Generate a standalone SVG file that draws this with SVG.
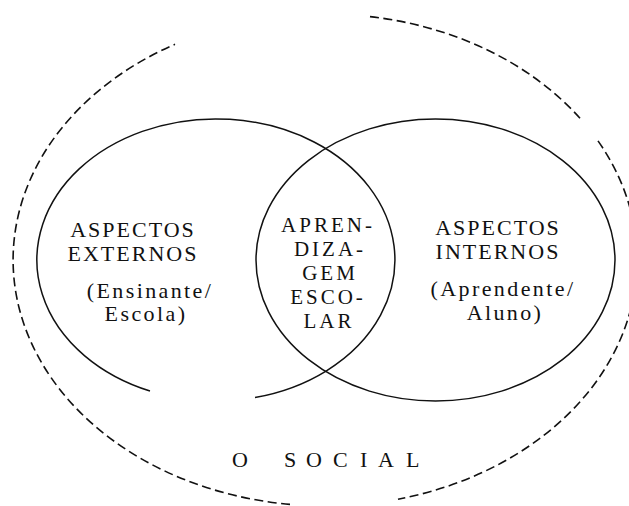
<svg xmlns="http://www.w3.org/2000/svg" width="629" height="506" viewBox="0 0 629 506">
<style>
.outer{fill:none;stroke:#111;stroke-width:1.6;stroke-dasharray:9 4.5}
.ring{fill:none;stroke:#111;stroke-width:1.5}
text{font-family:"Liberation Serif","Times New Roman",serif;fill:#111;text-anchor:middle}
.cap{font-size:22px;letter-spacing:2px}
.mid{font-size:21px;letter-spacing:3px}
.low{font-size:22px;letter-spacing:2.4px}
.soc{font-size:22px;text-anchor:start}
</style>
<g id="social">
<path class="outer" d="M370,16.6 A312,246 0 0 1 580,118.3"/>
<path class="outer" d="M598,140.9 A312,246 0 0 1 398,499.2"/>
<path class="outer" d="M290,504.4 A312,246 0 0 1 175,44.3"/>
<text class="soc" x="232 260 284 306 333 360 378 406" y="467">O SOCIAL</text>
</g>
<g id="externos">
<path class="ring" d="M150,391 A179,141 0 1 1 255,397.5"/>
<text class="cap" x="133" y="237">ASPECTOS</text>
<text class="cap" x="133" y="261">EXTERNOS</text>
<text class="low" x="150" y="298">(Ensinante/</text>
<text class="low" x="146" y="321">Escola)</text>
</g>
<g id="internos">
<ellipse class="ring" cx="435.5" cy="260" rx="179.5" ry="141"/>
<text class="cap" x="498" y="235">ASPECTOS</text>
<text class="cap" x="498" y="259">INTERNOS</text>
<text class="low" x="503" y="296">(Aprendente/</text>
<text class="low" x="505" y="320">Aluno)</text>
</g>
<g id="aprendizagem">
<text class="mid" x="328" y="232">APREN-</text>
<text class="mid" x="330" y="256">DIZA-</text>
<text class="mid" x="330" y="280">GEM</text>
<text class="mid" x="328" y="304">ESCO-</text>
<text class="mid" x="329" y="328">LAR</text>
</g>
<g id="connectors"></g>
</svg>
